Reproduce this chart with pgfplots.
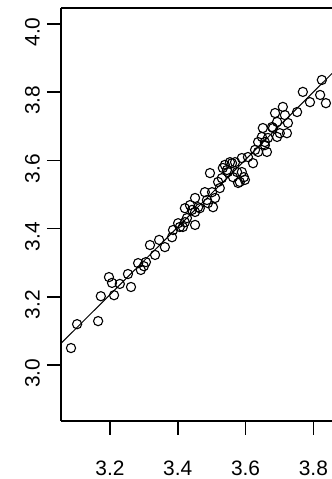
\documentclass[border=0pt]{standalone}
\usepackage{pgfplots}
\pgfplotsset{compat=1.18}
\usepackage{fontspec}
\setmainfont{Liberation Sans}
\begin{document}
\fontsize{21}{25}\selectfont
\begin{tikzpicture}
\begin{axis}[
  scale only axis,
  width=271bp, height=412.7bp,
  xmin=3.0555, xmax=3.855, ymin=2.837, ymax=4.047,
  separate axis lines,
  axis x line*=box, axis y line*=left,
  axis line style={line width=1.6bp, black, -},
  xtick={3.2,3.4,3.6,3.8},
  xticklabels={3.2,3.4,3.6,3.8},
  ytick={3.0,3.2,3.4,3.6,3.8,4.0},
  yticklabels={3.0,3.2,3.4,3.6,3.8,4.0},
  xtick pos=bottom, ytick pos=left,
  tick align=outside,
  major tick length=14bp,
  tick style={line width=1.6bp, black},
  tick label style={font=\fontsize{21}{25}\selectfont, black},
  xticklabel style={yshift=-19bp},
  yticklabel style={rotate=90, anchor=south, xshift=-8bp},
]
\addplot[only marks, mark=o, mark size=4.6bp, mark options={line width=1.1bp, black}] coordinates {
(3.085,3.050) (3.103,3.120) (3.165,3.129) (3.173,3.202) (3.197,3.258)
(3.206,3.241) (3.212,3.205) (3.229,3.238) (3.253,3.267) (3.262,3.229)
(3.283,3.299) (3.291,3.279) (3.300,3.290) (3.306,3.302) (3.318,3.352)
(3.333,3.323) (3.345,3.367) (3.362,3.346) (3.383,3.375) (3.386,3.396)
(3.401,3.416) (3.406,3.405) (3.415,3.405) (3.421,3.419) (3.427,3.431)
(3.451,3.411) (3.421,3.460) (3.436,3.469) (3.442,3.455) (3.451,3.449)
(3.451,3.490) (3.460,3.463) (3.465,3.460) (3.480,3.507) (3.486,3.484)
(3.489,3.475) (3.501,3.507) (3.504,3.463) (3.510,3.490) (3.495,3.563)
(3.519,3.537) (3.524,3.519) (3.530,3.548) (3.533,3.578) (3.539,3.587)
(3.545,3.572) (3.548,3.566) (3.554,3.595) (3.560,3.592) (3.563,3.551)
(3.569,3.595) (3.575,3.566) (3.578,3.534) (3.583,3.537) (3.589,3.566)
(3.589,3.607) (3.598,3.543) (3.595,3.551) (3.607,3.610) (3.622,3.592)
(3.628,3.631) (3.637,3.625) (3.637,3.654) (3.648,3.669) (3.651,3.695)
(3.657,3.645) (3.657,3.654) (3.663,3.625) (3.666,3.666) (3.678,3.698)
(3.681,3.695) (3.687,3.739) (3.693,3.713) (3.693,3.669) (3.701,3.680)
(3.710,3.757) (3.716,3.733) (3.722,3.680) (3.725,3.710) (3.752,3.742)
(3.769,3.801) (3.790,3.771) (3.820,3.792) (3.825,3.836) (3.837,3.768)
};
\addplot[black, line width=1bp] coordinates {(3.0555,3.0636) (3.855,3.855)};
\end{axis}
\pgfresetboundingbox
\useasboundingbox (-61bp,-58.3bp) rectangle (271bp,420.7bp);
\end{tikzpicture}
\end{document}
